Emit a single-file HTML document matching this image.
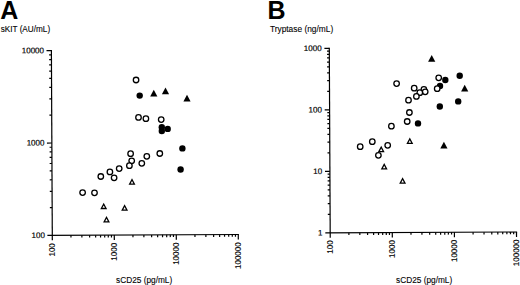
<!DOCTYPE html>
<html><head><meta charset="utf-8"><style>
html,body{margin:0;padding:0;background:#fff;}
svg{display:block;}
.t{font-family:"Liberation Sans",sans-serif;font-size:8px;fill:#000;stroke:#000;stroke-width:0.18px;}
.big{font-family:"Liberation Sans",sans-serif;font-size:25px;font-weight:bold;fill:#000;stroke:none;}
</style></head><body>
<svg width="520" height="285" viewBox="0 0 520 285">
<g stroke="#000" stroke-linecap="butt" transform="rotate(-0.28 52.3 235.4)">
<line x1="52.30" y1="50.00" x2="52.30" y2="240.30" stroke-width="1.2"/>
<line x1="47.40" y1="235.40" x2="238.90" y2="235.40" stroke-width="1.2"/>
<line x1="50.00" y1="207.58" x2="52.30" y2="207.58" stroke-width="1.2"/>
<line x1="50.00" y1="191.31" x2="52.30" y2="191.31" stroke-width="1.2"/>
<line x1="50.00" y1="179.77" x2="52.30" y2="179.77" stroke-width="1.2"/>
<line x1="50.00" y1="170.82" x2="52.30" y2="170.82" stroke-width="1.2"/>
<line x1="50.00" y1="163.50" x2="52.30" y2="163.50" stroke-width="1.2"/>
<line x1="50.00" y1="157.31" x2="52.30" y2="157.31" stroke-width="1.2"/>
<line x1="50.00" y1="151.95" x2="52.30" y2="151.95" stroke-width="1.2"/>
<line x1="50.00" y1="147.23" x2="52.30" y2="147.23" stroke-width="1.2"/>
<line x1="50.00" y1="115.18" x2="52.30" y2="115.18" stroke-width="1.2"/>
<line x1="50.00" y1="98.91" x2="52.30" y2="98.91" stroke-width="1.2"/>
<line x1="50.00" y1="87.37" x2="52.30" y2="87.37" stroke-width="1.2"/>
<line x1="50.00" y1="78.42" x2="52.30" y2="78.42" stroke-width="1.2"/>
<line x1="50.00" y1="71.10" x2="52.30" y2="71.10" stroke-width="1.2"/>
<line x1="50.00" y1="64.91" x2="52.30" y2="64.91" stroke-width="1.2"/>
<line x1="50.00" y1="59.55" x2="52.30" y2="59.55" stroke-width="1.2"/>
<line x1="50.00" y1="54.83" x2="52.30" y2="54.83" stroke-width="1.2"/>
<line x1="47.40" y1="143.00" x2="52.30" y2="143.00" stroke-width="1.2"/>
<line x1="47.40" y1="50.60" x2="52.30" y2="50.60" stroke-width="1.2"/>
<line x1="70.96" y1="235.40" x2="70.96" y2="237.70" stroke-width="1.2"/>
<line x1="81.88" y1="235.40" x2="81.88" y2="237.70" stroke-width="1.2"/>
<line x1="89.63" y1="235.40" x2="89.63" y2="237.70" stroke-width="1.2"/>
<line x1="95.64" y1="235.40" x2="95.64" y2="237.70" stroke-width="1.2"/>
<line x1="100.55" y1="235.40" x2="100.55" y2="237.70" stroke-width="1.2"/>
<line x1="104.70" y1="235.40" x2="104.70" y2="237.70" stroke-width="1.2"/>
<line x1="108.29" y1="235.40" x2="108.29" y2="237.70" stroke-width="1.2"/>
<line x1="111.46" y1="235.40" x2="111.46" y2="237.70" stroke-width="1.2"/>
<line x1="132.96" y1="235.40" x2="132.96" y2="237.70" stroke-width="1.2"/>
<line x1="143.88" y1="235.40" x2="143.88" y2="237.70" stroke-width="1.2"/>
<line x1="151.63" y1="235.40" x2="151.63" y2="237.70" stroke-width="1.2"/>
<line x1="157.64" y1="235.40" x2="157.64" y2="237.70" stroke-width="1.2"/>
<line x1="162.55" y1="235.40" x2="162.55" y2="237.70" stroke-width="1.2"/>
<line x1="166.70" y1="235.40" x2="166.70" y2="237.70" stroke-width="1.2"/>
<line x1="170.29" y1="235.40" x2="170.29" y2="237.70" stroke-width="1.2"/>
<line x1="173.46" y1="235.40" x2="173.46" y2="237.70" stroke-width="1.2"/>
<line x1="194.96" y1="235.40" x2="194.96" y2="237.70" stroke-width="1.2"/>
<line x1="205.88" y1="235.40" x2="205.88" y2="237.70" stroke-width="1.2"/>
<line x1="213.63" y1="235.40" x2="213.63" y2="237.70" stroke-width="1.2"/>
<line x1="219.64" y1="235.40" x2="219.64" y2="237.70" stroke-width="1.2"/>
<line x1="224.55" y1="235.40" x2="224.55" y2="237.70" stroke-width="1.2"/>
<line x1="228.70" y1="235.40" x2="228.70" y2="237.70" stroke-width="1.2"/>
<line x1="232.29" y1="235.40" x2="232.29" y2="237.70" stroke-width="1.2"/>
<line x1="235.46" y1="235.40" x2="235.46" y2="237.70" stroke-width="1.2"/>
<line x1="114.30" y1="235.40" x2="114.30" y2="240.30" stroke-width="1.2"/>
<line x1="176.30" y1="235.40" x2="176.30" y2="240.30" stroke-width="1.2"/>
<line x1="238.30" y1="235.40" x2="238.30" y2="240.30" stroke-width="1.2"/>
<text x="44.90" y="237.90" text-anchor="end" class="t">100</text>
<text x="44.90" y="145.50" text-anchor="end" class="t">1000</text>
<text x="44.90" y="53.10" text-anchor="end" class="t">10000</text>
<text transform="translate(54.70,243.20) rotate(-90)" text-anchor="end" class="t">100</text>
<text transform="translate(116.70,243.20) rotate(-90)" text-anchor="end" class="t">1000</text>
<text transform="translate(178.70,243.20) rotate(-90)" text-anchor="end" class="t">10000</text>
<text transform="translate(240.70,243.20) rotate(-90)" text-anchor="end" class="t">100000</text>
</g>
<g stroke="#000" stroke-linecap="butt" transform="rotate(-0.28 330.2 232.9)">
<line x1="330.20" y1="47.80" x2="330.20" y2="237.80" stroke-width="1.2"/>
<line x1="325.30" y1="232.90" x2="517.10" y2="232.90" stroke-width="1.2"/>
<line x1="327.90" y1="214.39" x2="330.20" y2="214.39" stroke-width="1.2"/>
<line x1="327.90" y1="203.56" x2="330.20" y2="203.56" stroke-width="1.2"/>
<line x1="327.90" y1="195.87" x2="330.20" y2="195.87" stroke-width="1.2"/>
<line x1="327.90" y1="189.91" x2="330.20" y2="189.91" stroke-width="1.2"/>
<line x1="327.90" y1="185.04" x2="330.20" y2="185.04" stroke-width="1.2"/>
<line x1="327.90" y1="180.93" x2="330.20" y2="180.93" stroke-width="1.2"/>
<line x1="327.90" y1="177.36" x2="330.20" y2="177.36" stroke-width="1.2"/>
<line x1="327.90" y1="174.21" x2="330.20" y2="174.21" stroke-width="1.2"/>
<line x1="327.90" y1="152.89" x2="330.20" y2="152.89" stroke-width="1.2"/>
<line x1="327.90" y1="142.06" x2="330.20" y2="142.06" stroke-width="1.2"/>
<line x1="327.90" y1="134.37" x2="330.20" y2="134.37" stroke-width="1.2"/>
<line x1="327.90" y1="128.41" x2="330.20" y2="128.41" stroke-width="1.2"/>
<line x1="327.90" y1="123.54" x2="330.20" y2="123.54" stroke-width="1.2"/>
<line x1="327.90" y1="119.43" x2="330.20" y2="119.43" stroke-width="1.2"/>
<line x1="327.90" y1="115.86" x2="330.20" y2="115.86" stroke-width="1.2"/>
<line x1="327.90" y1="112.71" x2="330.20" y2="112.71" stroke-width="1.2"/>
<line x1="327.90" y1="91.39" x2="330.20" y2="91.39" stroke-width="1.2"/>
<line x1="327.90" y1="80.56" x2="330.20" y2="80.56" stroke-width="1.2"/>
<line x1="327.90" y1="72.87" x2="330.20" y2="72.87" stroke-width="1.2"/>
<line x1="327.90" y1="66.91" x2="330.20" y2="66.91" stroke-width="1.2"/>
<line x1="327.90" y1="62.04" x2="330.20" y2="62.04" stroke-width="1.2"/>
<line x1="327.90" y1="57.93" x2="330.20" y2="57.93" stroke-width="1.2"/>
<line x1="327.90" y1="54.36" x2="330.20" y2="54.36" stroke-width="1.2"/>
<line x1="327.90" y1="51.21" x2="330.20" y2="51.21" stroke-width="1.2"/>
<line x1="325.30" y1="171.40" x2="330.20" y2="171.40" stroke-width="1.2"/>
<line x1="325.30" y1="109.90" x2="330.20" y2="109.90" stroke-width="1.2"/>
<line x1="325.30" y1="48.40" x2="330.20" y2="48.40" stroke-width="1.2"/>
<line x1="348.89" y1="232.90" x2="348.89" y2="235.20" stroke-width="1.2"/>
<line x1="359.83" y1="232.90" x2="359.83" y2="235.20" stroke-width="1.2"/>
<line x1="367.59" y1="232.90" x2="367.59" y2="235.20" stroke-width="1.2"/>
<line x1="373.61" y1="232.90" x2="373.61" y2="235.20" stroke-width="1.2"/>
<line x1="378.52" y1="232.90" x2="378.52" y2="235.20" stroke-width="1.2"/>
<line x1="382.68" y1="232.90" x2="382.68" y2="235.20" stroke-width="1.2"/>
<line x1="386.28" y1="232.90" x2="386.28" y2="235.20" stroke-width="1.2"/>
<line x1="389.46" y1="232.90" x2="389.46" y2="235.20" stroke-width="1.2"/>
<line x1="410.99" y1="232.90" x2="410.99" y2="235.20" stroke-width="1.2"/>
<line x1="421.93" y1="232.90" x2="421.93" y2="235.20" stroke-width="1.2"/>
<line x1="429.69" y1="232.90" x2="429.69" y2="235.20" stroke-width="1.2"/>
<line x1="435.71" y1="232.90" x2="435.71" y2="235.20" stroke-width="1.2"/>
<line x1="440.62" y1="232.90" x2="440.62" y2="235.20" stroke-width="1.2"/>
<line x1="444.78" y1="232.90" x2="444.78" y2="235.20" stroke-width="1.2"/>
<line x1="448.38" y1="232.90" x2="448.38" y2="235.20" stroke-width="1.2"/>
<line x1="451.56" y1="232.90" x2="451.56" y2="235.20" stroke-width="1.2"/>
<line x1="473.09" y1="232.90" x2="473.09" y2="235.20" stroke-width="1.2"/>
<line x1="484.03" y1="232.90" x2="484.03" y2="235.20" stroke-width="1.2"/>
<line x1="491.79" y1="232.90" x2="491.79" y2="235.20" stroke-width="1.2"/>
<line x1="497.81" y1="232.90" x2="497.81" y2="235.20" stroke-width="1.2"/>
<line x1="502.72" y1="232.90" x2="502.72" y2="235.20" stroke-width="1.2"/>
<line x1="506.88" y1="232.90" x2="506.88" y2="235.20" stroke-width="1.2"/>
<line x1="510.48" y1="232.90" x2="510.48" y2="235.20" stroke-width="1.2"/>
<line x1="513.66" y1="232.90" x2="513.66" y2="235.20" stroke-width="1.2"/>
<line x1="392.30" y1="232.90" x2="392.30" y2="237.80" stroke-width="1.2"/>
<line x1="454.40" y1="232.90" x2="454.40" y2="237.80" stroke-width="1.2"/>
<line x1="516.50" y1="232.90" x2="516.50" y2="237.80" stroke-width="1.2"/>
<text x="322.50" y="235.40" text-anchor="end" class="t">1</text>
<text x="322.50" y="173.90" text-anchor="end" class="t">10</text>
<text x="322.50" y="112.40" text-anchor="end" class="t">100</text>
<text x="322.50" y="50.90" text-anchor="end" class="t">1000</text>
<text transform="translate(332.60,240.40) rotate(-90)" text-anchor="end" class="t">100</text>
<text transform="translate(394.70,240.40) rotate(-90)" text-anchor="end" class="t">1000</text>
<text transform="translate(456.80,240.40) rotate(-90)" text-anchor="end" class="t">10000</text>
<text transform="translate(518.90,240.40) rotate(-90)" text-anchor="end" class="t">100000</text>
</g>
<circle cx="139.70" cy="95.60" r="3.2" fill="#000"/>
<circle cx="161.80" cy="127.20" r="3.2" fill="#000"/>
<circle cx="161.80" cy="131.00" r="3.2" fill="#000"/>
<circle cx="167.70" cy="128.90" r="3.2" fill="#000"/>
<circle cx="182.40" cy="148.40" r="3.2" fill="#000"/>
<circle cx="180.60" cy="169.50" r="3.2" fill="#000"/>
<circle cx="445.30" cy="80.00" r="3.2" fill="#000"/>
<circle cx="440.00" cy="85.90" r="3.2" fill="#000"/>
<circle cx="459.70" cy="75.80" r="3.2" fill="#000"/>
<circle cx="458.20" cy="101.40" r="3.2" fill="#000"/>
<circle cx="439.80" cy="106.50" r="3.2" fill="#000"/>
<circle cx="418.00" cy="123.40" r="3.2" fill="#000"/>
<path d="M153.80 89.80L157.40 96.60L150.20 96.60Z" fill="#000"/>
<path d="M165.50 87.50L169.10 94.30L161.90 94.30Z" fill="#000"/>
<path d="M187.00 94.80L190.60 101.60L183.40 101.60Z" fill="#000"/>
<path d="M431.70 54.90L435.30 61.70L428.10 61.70Z" fill="#000"/>
<path d="M464.70 84.80L468.30 91.60L461.10 91.60Z" fill="#000"/>
<path d="M443.90 141.70L447.50 148.50L440.30 148.50Z" fill="#000"/>
<path d="M132.00 178.25L135.45 184.75L128.55 184.75ZM130.69 183.46L133.31 183.46L132.00 180.99Z" fill="#000" fill-rule="evenodd"/>
<path d="M103.70 202.65L107.15 209.15L100.25 209.15ZM102.39 207.86L105.01 207.86L103.70 205.39Z" fill="#000" fill-rule="evenodd"/>
<path d="M124.60 204.25L128.05 210.75L121.15 210.75ZM123.29 209.46L125.91 209.46L124.60 206.99Z" fill="#000" fill-rule="evenodd"/>
<path d="M106.50 215.95L109.95 222.45L103.05 222.45ZM105.19 221.16L107.81 221.16L106.50 218.69Z" fill="#000" fill-rule="evenodd"/>
<path d="M381.20 145.75L384.65 152.25L377.75 152.25ZM379.89 150.96L382.51 150.96L381.20 148.49Z" fill="#000" fill-rule="evenodd"/>
<path d="M409.80 137.45L413.25 143.95L406.35 143.95ZM408.49 142.66L411.11 142.66L409.80 140.19Z" fill="#000" fill-rule="evenodd"/>
<path d="M384.20 163.05L387.65 169.55L380.75 169.55ZM382.89 168.26L385.51 168.26L384.20 165.79Z" fill="#000" fill-rule="evenodd"/>
<path d="M402.60 177.35L406.05 183.85L399.15 183.85ZM401.29 182.56L403.91 182.56L402.60 180.09Z" fill="#000" fill-rule="evenodd"/>
<circle cx="136.05" cy="80.00" r="2.75" fill="#fff" stroke="#000" stroke-width="1.3"/>
<circle cx="138.50" cy="117.40" r="2.75" fill="#fff" stroke="#000" stroke-width="1.3"/>
<circle cx="145.90" cy="118.70" r="2.75" fill="#fff" stroke="#000" stroke-width="1.3"/>
<circle cx="161.20" cy="119.60" r="2.75" fill="#fff" stroke="#000" stroke-width="1.3"/>
<circle cx="130.60" cy="153.70" r="2.75" fill="#fff" stroke="#000" stroke-width="1.3"/>
<circle cx="131.70" cy="160.80" r="2.75" fill="#fff" stroke="#000" stroke-width="1.3"/>
<circle cx="129.40" cy="165.70" r="2.75" fill="#fff" stroke="#000" stroke-width="1.3"/>
<circle cx="141.80" cy="163.30" r="2.75" fill="#fff" stroke="#000" stroke-width="1.3"/>
<circle cx="146.80" cy="156.30" r="2.75" fill="#fff" stroke="#000" stroke-width="1.3"/>
<circle cx="159.80" cy="153.50" r="2.75" fill="#fff" stroke="#000" stroke-width="1.3"/>
<circle cx="119.20" cy="168.60" r="2.75" fill="#fff" stroke="#000" stroke-width="1.3"/>
<circle cx="100.80" cy="176.50" r="2.75" fill="#fff" stroke="#000" stroke-width="1.3"/>
<circle cx="109.90" cy="171.90" r="2.75" fill="#fff" stroke="#000" stroke-width="1.3"/>
<circle cx="114.10" cy="177.80" r="2.75" fill="#fff" stroke="#000" stroke-width="1.3"/>
<circle cx="82.60" cy="192.60" r="2.75" fill="#fff" stroke="#000" stroke-width="1.3"/>
<circle cx="94.50" cy="192.80" r="2.75" fill="#fff" stroke="#000" stroke-width="1.3"/>
<circle cx="396.60" cy="83.60" r="2.75" fill="#fff" stroke="#000" stroke-width="1.3"/>
<circle cx="414.20" cy="88.20" r="2.75" fill="#fff" stroke="#000" stroke-width="1.3"/>
<circle cx="423.90" cy="89.40" r="2.75" fill="#fff" stroke="#000" stroke-width="1.3"/>
<circle cx="425.20" cy="91.80" r="2.75" fill="#fff" stroke="#000" stroke-width="1.3"/>
<circle cx="419.80" cy="92.70" r="2.75" fill="#fff" stroke="#000" stroke-width="1.3"/>
<circle cx="416.40" cy="96.40" r="2.75" fill="#fff" stroke="#000" stroke-width="1.3"/>
<circle cx="408.50" cy="100.20" r="2.75" fill="#fff" stroke="#000" stroke-width="1.3"/>
<circle cx="409.40" cy="112.50" r="2.75" fill="#fff" stroke="#000" stroke-width="1.3"/>
<circle cx="407.20" cy="121.50" r="2.75" fill="#fff" stroke="#000" stroke-width="1.3"/>
<circle cx="391.40" cy="126.20" r="2.75" fill="#fff" stroke="#000" stroke-width="1.3"/>
<circle cx="372.30" cy="141.70" r="2.75" fill="#fff" stroke="#000" stroke-width="1.3"/>
<circle cx="360.20" cy="146.70" r="2.75" fill="#fff" stroke="#000" stroke-width="1.3"/>
<circle cx="387.70" cy="145.30" r="2.75" fill="#fff" stroke="#000" stroke-width="1.3"/>
<circle cx="378.40" cy="155.30" r="2.75" fill="#fff" stroke="#000" stroke-width="1.3"/>
<circle cx="438.70" cy="77.80" r="2.75" fill="#fff" stroke="#000" stroke-width="1.3"/>
<circle cx="437.20" cy="88.70" r="2.75" fill="#fff" stroke="#000" stroke-width="1.3"/>
<text x="0.2" y="18.7" class="big">A</text>
<text x="267.6" y="18.7" class="big">B</text>
<text x="0.7" y="32.2" class="t" style="font-size:8.2px;stroke-width:0.1px">sKIT (AU/mL)</text>
<text x="269.9" y="32.1" class="t" style="font-size:8.8px;stroke-width:0.1px" textLength="63.3" lengthAdjust="spacingAndGlyphs">Tryptase (ng/mL)</text>
<text x="116.0" y="282.9" class="t" style="font-size:8.3px;stroke-width:0.1px">sCD25 (pg/mL)</text>
<text x="396.0" y="282.9" class="t" style="font-size:8.3px;stroke-width:0.1px">sCD25 (pg/mL)</text>
</svg>
</body></html>
